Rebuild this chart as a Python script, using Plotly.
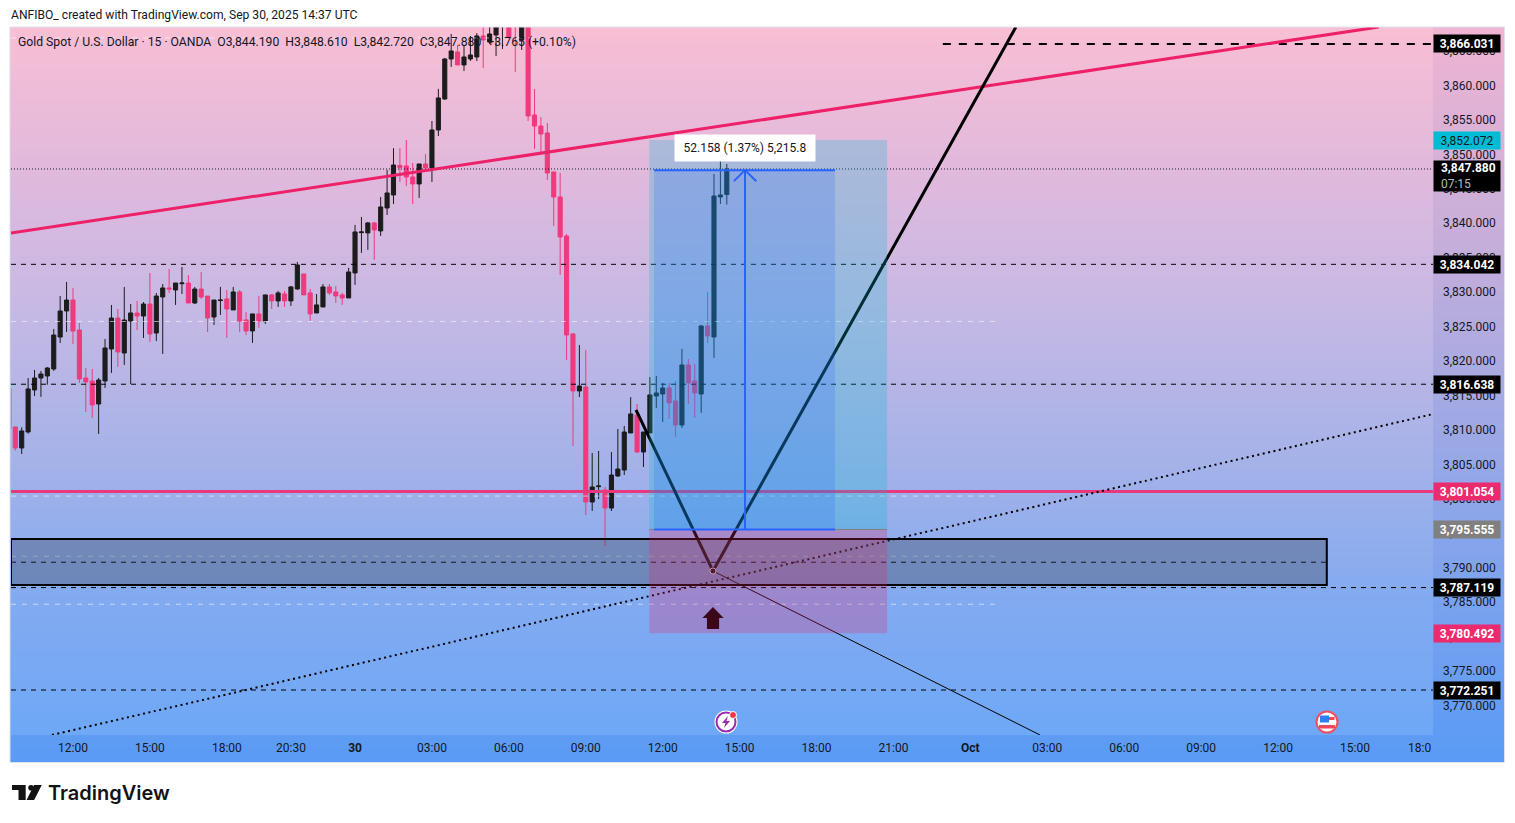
import plotly.graph_objects as go

W, H = 1515, 823

# Candle data, index 0 = 12:00 on the first label
bars = list(range(-10, 103))
opens = [3816.04, 3810.43, 3807.38, 3809.71, 3815.80, 3817.54, 3817.83, 3818.85, 3823.49, 3827.27,
         3828.86, 3824.51, 3817.54, 3817.11, 3813.77, 3817.11, 3821.75, 3826.25, 3821.17, 3825.82,
         3826.98, 3826.54, 3828.28, 3824.07, 3829.30, 3830.61, 3830.32, 3831.23, 3831.33, 3828.43,
         3830.46, 3829.44, 3826.40, 3828.78, 3829.02, 3827.42, 3830.03, 3825.97, 3824.37, 3826.84,
         3825.82, 3829.60, 3828.73, 3829.74, 3828.73, 3830.47, 3832.64, 3829.89, 3826.98, 3827.85,
         3830.76, 3830.03, 3829.60, 3829.16, 3832.79, 3838.64, 3838.60, 3840.05, 3838.89, 3842.22,
         3844.11, 3848.40, 3848.32, 3846.72, 3845.71, 3848.61, 3848.03, 3853.54, 3858.04, 3863.85,
         3864.87, 3862.98, 3863.85, 3864.14, 3867.19, 3866.32, 3867.33, 3868.60, 3869.60, 3870.50,
         3866.61, 3870.50, 3855.72, 3854.12, 3853.11, 3847.45, 3843.82, 3838.15, 3823.93, 3815.66,
         3816.24, 3799.54, 3801.77, 3801.29, 3798.67, 3803.32, 3804.19, 3809.56, 3812.17, 3806.80,
         3809.56, 3814.93, 3815.22, 3816.09, 3814.21, 3810.72, 3819.43, 3817.11, 3815.22, 3825.09,
         3823.50, 3843.82, 3844.19]
highs = [3816.04, 3810.43, 3810.38, 3817.54, 3818.71, 3818.56, 3819.14, 3824.66, 3829.44, 3831.48,
         3830.61, 3825.53, 3818.99, 3818.85, 3817.54, 3823.20, 3828.14, 3827.56, 3830.75, 3828.28,
         3828.72, 3828.57, 3832.78, 3829.88, 3831.19, 3833.36, 3831.33, 3833.65, 3832.49, 3830.75,
         3832.93, 3829.44, 3828.86, 3830.76, 3830.32, 3830.76, 3830.32, 3827.13, 3826.84, 3829.45,
         3829.60, 3829.74, 3830.18, 3830.18, 3830.90, 3834.39, 3832.64, 3830.47, 3829.74, 3831.19,
         3831.19, 3830.90, 3829.89, 3833.52, 3839.76, 3840.92, 3840.19, 3840.19, 3843.82, 3847.74,
         3850.90, 3850.90, 3852.09, 3848.76, 3848.61, 3850.06, 3854.85, 3859.50, 3864.00, 3867.48,
         3865.88, 3865.88, 3867.19, 3867.60, 3869.50, 3869.50, 3871.00, 3871.50, 3871.00, 3872.00,
         3872.00, 3871.00, 3859.50, 3855.43, 3854.56, 3847.45, 3847.30, 3838.44, 3824.07, 3822.33,
         3821.61, 3806.66, 3806.95, 3801.72, 3806.80, 3810.14, 3810.58, 3814.78, 3813.77, 3809.70,
         3817.69, 3817.83, 3816.82, 3816.82, 3817.11, 3821.75, 3820.30, 3819.58, 3825.24, 3830.03,
         3847.15, 3849.19, 3848.61]
lows = [3810.19, 3806.99, 3806.51, 3809.46, 3814.93, 3814.79, 3816.58, 3818.56, 3822.62, 3824.22,
        3822.48, 3816.82, 3812.61, 3811.74, 3809.42, 3816.09, 3818.27, 3819.14, 3819.43, 3816.67,
        3824.51, 3823.35, 3822.77, 3822.91, 3821.03, 3829.88, 3828.14, 3829.74, 3828.43, 3828.28,
        3829.01, 3824.22, 3825.24, 3826.69, 3823.36, 3827.42, 3824.22, 3823.79, 3822.63, 3824.81,
        3825.39, 3827.56, 3827.85, 3827.85, 3828.00, 3830.32, 3829.60, 3825.82, 3826.98, 3827.85,
        3829.60, 3828.44, 3828.15, 3829.16, 3831.05, 3835.69, 3836.13, 3834.68, 3838.16, 3841.21,
        3842.80, 3846.00, 3845.42, 3842.80, 3843.68, 3848.03, 3846.00, 3852.67, 3857.90, 3862.69,
        3862.98, 3862.11, 3863.56, 3863.56, 3862.54, 3866.03, 3864.28, 3865.30, 3866.90, 3861.96,
        3865.16, 3854.85, 3850.79, 3850.35, 3846.29, 3839.60, 3832.49, 3820.16, 3807.67, 3814.78,
        3797.66, 3798.24, 3799.98, 3793.16, 3798.24, 3803.17, 3803.46, 3809.56, 3806.66, 3804.62,
        3809.56, 3813.19, 3811.16, 3811.59, 3808.98, 3810.29, 3813.77, 3811.74, 3812.47, 3822.62,
        3820.45, 3842.80, 3842.72]
closes = [3810.19, 3807.38, 3809.85, 3815.95, 3817.54, 3818.12, 3818.99, 3823.78, 3827.27, 3828.86,
          3824.36, 3817.40, 3816.96, 3813.63, 3817.25, 3821.90, 3826.25, 3821.32, 3825.96, 3826.98,
          3826.54, 3828.28, 3823.93, 3829.44, 3830.61, 3830.46, 3831.33, 3831.33, 3828.43, 3830.46,
          3829.30, 3826.25, 3828.86, 3828.86, 3827.56, 3830.03, 3825.82, 3824.37, 3826.84, 3825.82,
          3829.60, 3828.73, 3829.89, 3828.73, 3830.76, 3833.95, 3829.60, 3826.84, 3828.15, 3830.76,
          3829.89, 3829.45, 3829.16, 3832.93, 3838.74, 3838.74, 3840.05, 3839.03, 3842.37, 3844.40,
          3848.46, 3848.10, 3846.72, 3845.71, 3848.61, 3848.03, 3853.54, 3858.19, 3863.85, 3865.01,
          3862.98, 3864.14, 3864.43, 3867.19, 3866.61, 3867.48, 3868.54, 3870.00, 3866.90, 3869.00,
          3870.50, 3855.58, 3854.12, 3852.96, 3847.30, 3843.82, 3838.01, 3823.78, 3815.66, 3816.38,
          3799.54, 3801.72, 3801.87, 3798.67, 3803.46, 3804.33, 3809.70, 3812.32, 3806.80, 3809.70,
          3815.08, 3815.37, 3816.09, 3813.92, 3810.72, 3819.43, 3816.82, 3815.37, 3825.09, 3823.64,
          3843.96, 3844.11, 3847.88]

# Axis labels
time_ticks = [0, 12, 24, 34, 44, 56, 68, 80, 92, 104, 116, 128, 140, 152, 164, 176, 188, 200]
time_labels = ['12:00', '15:00', '18:00', '20:30', '<b>30</b>', '03:00', '06:00', '09:00', '12:00', '15:00',
               '18:00', '21:00', '<b>Oct</b>', '03:00', '06:00', '09:00', '12:00', '15:00']
price_ticks = [3770, 3775, 3780, 3785, 3790, 3795, 3800, 3805, 3810, 3815, 3820, 3825, 3830, 3835,
               3840, 3845, 3850, 3855, 3860, 3865]

# Drawings on the chart
black_levels = [3834.042, 3816.638, 3787.119, 3772.251]
white_levels = [3825.74, 3800.40, 3791.66, 3784.70]
top_level = 3866.031
last_price = 3847.88
pink_level = 3801.054
trend_x = [-9.67, 203.7]
trend_y = [3838.59, 3868.49]
dotted_x = [-3.28, 212.17]
dotted_y = [3765.72, 3812.3]
wedge_x = [87.83, 99.84, 147.1]
wedge_y = [3812.9, 3789.53, 3868.49]
thin_x = [99.84, 150.86]
thin_y = [3789.53, 3765.72]
up_arrow_x = [99.84, 101.5, 100.8, 100.8, 98.9, 98.9, 98.2]
up_arrow_y = [3784.3, 3782.7, 3782.7, 3781.1, 3781.1, 3782.7, 3782.7]
zone_top, zone_bottom = 3794.17, 3787.5
take_profit, entry, stop = 3852.072, 3795.555, 3780.492
measure_top = 3847.713

badges = [(3866.031, '3,866.031', '#000000', '#ffffff'), (3852.072, '3,852.072', '#00bcd4', '#131722'),
          (3834.042, '3,834.042', '#000000', '#ffffff'), (3816.638, '3,816.638', '#000000', '#ffffff'),
          (3801.054, '3,801.054', '#ec2a6e', '#ffffff'), (3795.555, '3,795.555', '#808080', '#ffffff'),
          (3787.119, '3,787.119', '#000000', '#ffffff'), (3780.492, '3,780.492', '#ec2a6e', '#ffffff'),
          (3772.251, '3,772.251', '#000000', '#ffffff')]

# Gradients, bottom to top
chart_levels = [0.0, 0.19, 0.389, 0.615, 0.799, 1.0]
chart_scale = ['#6ea8f7', '#82aaf0', '#a5b2e8', '#c8b9e4', '#e1b9dc', '#f8bed4']
frame_levels = [0.0, 0.04, 0.38, 0.7, 1.0]
frame_scale = ['#5a9bf5', '#5f9cf4', '#92a7e8', '#c4aeda', '#f0b4d2']

XMIN, XMAX = -9.67, 212.17
YMIN, YMAX = 3765.72, 3868.49
FONT = 'Roboto'


def px(x):
    return x / W


def py(y):
    return 1 - y / H


def scale(levels, colors):
    return [[a, b] for a, b in zip(levels, colors)]


def pixel_circle(cx, cy, r, **kw):
    return dict(type='circle', xref='paper', yref='paper', x0=px(cx - r), x1=px(cx + r),
                y0=py(cy + r), y1=py(cy - r), layer='above', **kw)


def pixel_rect(x0, y0, x1, y1, color):
    return dict(type='rect', xref='paper', yref='paper', x0=px(x0), x1=px(x1), y0=py(y1), y1=py(y0),
                fillcolor=color, line=dict(width=0), layer='above')


def pixel_path(points, color):
    d = 'M' + ' L'.join(f'{px(a):.5f},{py(b):.5f}' for a, b in points) + ' Z'
    return dict(type='path', xref='paper', yref='paper', path=d, fillcolor=color, line=dict(width=0), layer='above')


def flat_line(fig, x0, x1, y, color, width, dash):
    fig.add_trace(go.Scatter(x=[x0, x1], y=[y, y], mode='lines', xaxis='x2', yaxis='y2', hoverinfo='skip',
                             line=dict(color=color, width=width, dash=dash)))


fig = go.Figure()

# frame behind everything, then the chart area on its own axes
fig.add_trace(go.Heatmap(x=[0, 1], y=frame_levels, z=[[v, v] for v in frame_levels], zmin=0, zmax=1,
                         zsmooth='best', colorscale=scale(frame_levels, frame_scale), showscale=False,
                         hoverinfo='skip'))
chart_y = [YMIN + v * (YMAX - YMIN) for v in chart_levels]
fig.add_trace(go.Heatmap(x=[XMIN, XMAX], y=chart_y, z=[[v, v] for v in chart_levels], zmin=0, zmax=1,
                         zsmooth='best', colorscale=scale(chart_levels, chart_scale), showscale=False,
                         hoverinfo='skip', xaxis='x2', yaxis='y2'))

for lvl in white_levels:
    flat_line(fig, XMIN, 143.8, lvl, 'rgba(255,255,255,0.55)', 1, '5px,6px')
flat_line(fig, XMIN, 78.4, 3866.9, 'rgba(255,255,255,0.55)', 1, '5px,6px')
flat_line(fig, XMIN, XMAX, last_price, '#131722', 1, '1px,2px')
for lvl in black_levels:
    flat_line(fig, XMIN, XMAX, lvl, '#000000', 1, '5px,5px')
flat_line(fig, XMIN, 195.6, 3790.8, '#000000', 1, '5px,5px')
flat_line(fig, 135.7, XMAX, top_level, '#000000', 2, '8px,8px')
flat_line(fig, XMIN, XMAX, pink_level, '#e8397c', 3, 'solid')

fig.add_trace(go.Candlestick(x=bars, open=opens, high=highs, low=lows, close=closes, xaxis='x2', yaxis='y2',
                             whiskerwidth=0, hoverinfo='skip',
                             increasing=dict(line=dict(color='#1c1c1c', width=1), fillcolor='#1c1c1c'),
                             decreasing=dict(line=dict(color='#f03a7d', width=1), fillcolor='#f03a7d')))

fig.add_trace(go.Scatter(x=trend_x, y=trend_y, mode='lines', xaxis='x2', yaxis='y2', hoverinfo='skip',
                         line=dict(color='#ed2068', width=3)))
fig.add_trace(go.Scatter(x=dotted_x, y=dotted_y, mode='lines', xaxis='x2', yaxis='y2', hoverinfo='skip',
                         line=dict(color='#000000', width=2, dash='2px,3.5px')))
fig.add_trace(go.Scatter(x=thin_x, y=thin_y, mode='lines', xaxis='x2', yaxis='y2', hoverinfo='skip',
                         line=dict(color='#000000', width=1)))
fig.add_trace(go.Scatter(x=wedge_x, y=wedge_y, mode='lines', xaxis='x2', yaxis='y2', hoverinfo='skip',
                         line=dict(color='#000000', width=3)))
fig.add_trace(go.Scatter(x=[wedge_x[1]], y=[wedge_y[1]], mode='markers', xaxis='x2', yaxis='y2', hoverinfo='skip',
                         marker=dict(color='#000000', size=6, line=dict(color='#ffffff', width=1))))
fig.add_trace(go.Scatter(x=up_arrow_x, y=up_arrow_y, mode='lines', fill='toself', fillcolor='#000000',
                         xaxis='x2', yaxis='y2', hoverinfo='skip', line=dict(color='#000000', width=0)))

shapes = [
    # zone box
    dict(type='rect', xref='x2', yref='y2', x0=XMIN, x1=195.6, y0=zone_bottom, y1=zone_top,
         fillcolor='rgba(60,70,90,0.35)', line=dict(color='#000000', width=2), layer='above'),
    # long position
    dict(type='rect', xref='x2', yref='y2', x0=89.9, x1=127, y0=entry, y1=take_profit,
         fillcolor='rgba(0,188,212,0.25)', line=dict(width=0), layer='above'),
    dict(type='rect', xref='x2', yref='y2', x0=89.9, x1=127, y0=stop, y1=entry,
         fillcolor='rgba(233,30,99,0.25)', line=dict(width=0), layer='above'),
    dict(type='line', xref='x2', yref='y2', x0=89.9, x1=127, y0=entry, y1=entry,
         line=dict(color='#808080', width=1), layer='above'),
    # price range tool
    dict(type='rect', xref='x2', yref='y2', x0=90.64, x1=118.88, y0=entry, y1=measure_top,
         fillcolor='rgba(41,98,255,0.2)', line=dict(width=0), layer='above'),
]
for lvl in (entry, measure_top):
    shapes.append(dict(type='line', xref='x2', yref='y2', x0=90.64, x1=118.88, y0=lvl, y1=lvl,
                       line=dict(color='#2962ff', width=2), layer='above'))
shapes.append(dict(type='line', xref='x2', yref='y2', x0=104.84, x1=104.84, y0=entry, y1=measure_top,
                   line=dict(color='#2962ff', width=2), layer='above'))
for end in (103.1, 106.6):
    shapes.append(dict(type='line', xref='x2', yref='y2', x0=end, x1=104.84, y0=measure_top - 1.6, y1=measure_top,
                       line=dict(color='#2962ff', width=2), layer='above'))

# lightning icon
shapes.append(pixel_circle(726, 722, 11.5, fillcolor='#ffffff', line=dict(width=0)))
shapes.append(pixel_circle(726, 722, 9.5, fillcolor='#ffffff', line=dict(color='#9c27b0', width=2)))
shapes.append(pixel_path([(728, 716), (722, 723), (725.5, 723), (724, 728), (730, 721), (726.5, 721)], '#9c27b0'))
shapes.append(pixel_circle(733, 715, 3.5, fillcolor='#f23645', line=dict(color='#ffffff', width=1)))
# flag icon
shapes.append(pixel_circle(1327, 722, 10.5, fillcolor='#ffffff', line=dict(color='#ef5060', width=2)))
shapes.append(pixel_rect(1320, 715.5, 1329, 722.5, '#2f80ed'))
shapes.append(pixel_rect(1329, 717, 1334.5, 720, '#f0485a'))
shapes.append(pixel_rect(1319, 725, 1335, 728.5, '#f0485a'))
# TradingView mark
shapes.append(pixel_path([(12, 785), (25.7, 785), (25.7, 800), (18.5, 800), (18.5, 790), (12, 790)], '#131313'))
shapes.append(pixel_circle(31, 787.8, 2.8, fillcolor='#131313', line=dict(width=0)))
shapes.append(pixel_path([(34, 785), (41.8, 785), (34.2, 800), (26.6, 800)], '#131313'))
# border round the chart
shapes.append(dict(type='rect', xref='paper', yref='paper', x0=px(10), x1=px(1504.5), y0=py(762.5), y1=py(27),
                   line=dict(color='#dde3ee', width=1), layer='above'))

annotations = [
    dict(xref='paper', yref='paper', x=px(8.5), y=py(15), xanchor='left', yanchor='middle', showarrow=False,
         text='ANFIBO_ created with TradingView.com, Sep 30, 2025 14:37 UTC', font=dict(family=FONT, size=12.1, color='#131722')),
    dict(xref='paper', yref='paper', x=px(16), y=py(42), xanchor='left', yanchor='middle', showarrow=False,
         text='Gold Spot / U.S. Dollar · 15 · OANDA  O3,844.190  H3,848.610  L3,842.720  C3,847.880  +3.765 (+0.10%)',
         font=dict(family=FONT, size=12.2, color='#131722')),
    dict(xref='paper', yref='paper', x=px(46), y=py(793), xanchor='left', yanchor='middle', showarrow=False,
         text='TradingView', font=dict(family='Inter', size=20, color='#131313', weight=600)),
    dict(xref='paper', yref='paper', x=px(745), y=py(148), xanchor='center', yanchor='middle', showarrow=False,
         text='52.158 (1.37%) 5,215.8', bgcolor='#ffffff', width=138, height=24,
         font=dict(family=FONT, size=12, color='#131722')),
    dict(xref='paper', yref='paper', x=px(1433), y=py(748), xanchor='right', yanchor='middle', showarrow=False,
         text='18:0', font=dict(family=FONT, size=12, color='#131722')),
    dict(xref='paper', yref='paper', x=px(1467), y=py(176), xanchor='center', yanchor='middle', showarrow=False,
         text='&nbsp;&nbsp;<b>3,847.880</b><br>&nbsp;&nbsp;<span style="color:#b8b8b8">07:15</span>', bgcolor='#000000',
         width=64, height=28, align='left', font=dict(family=FONT, size=12, color='#ffffff')),
]
for level, label, bg, fg in badges:
    annotations.append(dict(xref='paper', yref='y2', x=px(1467), y=level, xanchor='center', yanchor='middle',
                            showarrow=False, text=f'<b>{label}</b>' if fg == '#ffffff' else label, bgcolor=bg,
                            width=64, height=15, font=dict(family=FONT, size=12, color=fg)))

fig.update_layout(
    width=W, height=H, autosize=False, showlegend=False, boxgap=0.2, boxgroupgap=0.2,
    margin=dict(l=0, r=0, t=0, b=0), paper_bgcolor='#ffffff', plot_bgcolor='rgba(0,0,0,0)',
    xaxis=dict(domain=[px(10), px(1504)], range=[0, 1], visible=False, fixedrange=True),
    yaxis=dict(domain=[py(762), py(27)], range=[0, 1], visible=False, fixedrange=True),
    xaxis2=dict(domain=[px(11), px(1433)], range=[XMIN, XMAX], anchor='y2', rangeslider=dict(visible=False),
                tickmode='array', tickvals=time_ticks, ticktext=time_labels, ticklen=0, showgrid=False, zeroline=False,
                showline=False, ticklabelstandoff=4, tickfont=dict(family=FONT, size=12, color='#131722')),
    yaxis2=dict(domain=[py(735), py(27)], range=[YMIN, YMAX], anchor='x2', side='right',
                tickmode='array', tickvals=price_ticks, tickformat=',.3f', ticklen=0, showgrid=False, zeroline=False,
                showline=False, ticklabelstandoff=9, tickfont=dict(family=FONT, size=12, color='#131722')),
    shapes=shapes, annotations=annotations,
)

# the page's default body margin would push the figure 8px off
fig.write_html("out.html", config={'displayModeBar': False},
               post_script="document.body.style.margin='0';document.body.style.overflow='hidden';")
